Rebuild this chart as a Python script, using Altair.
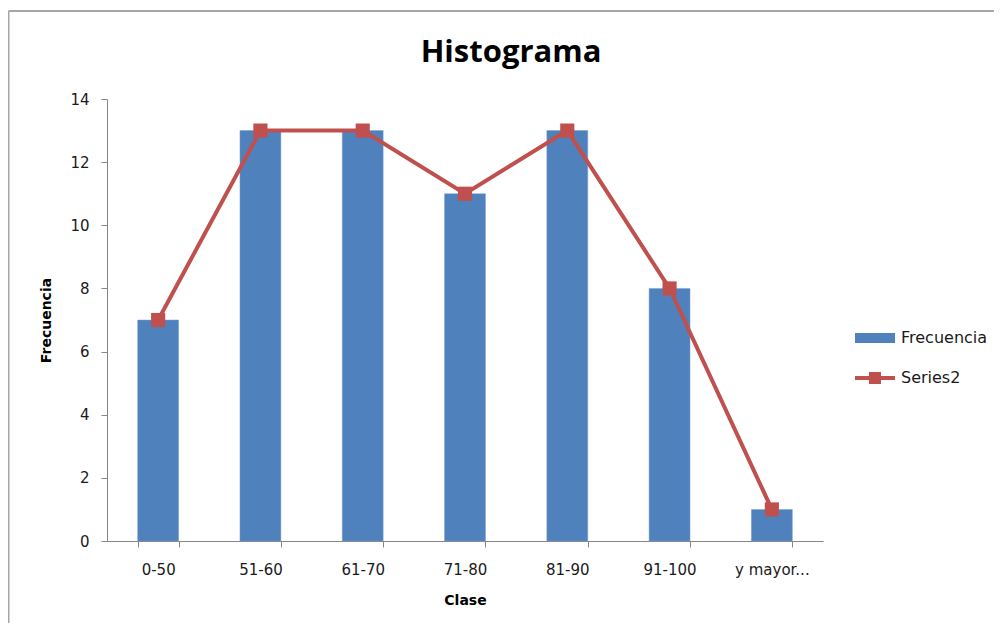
import altair as alt
import pandas as pd

clases = ["0-50", "51-60", "61-70", "71-80", "81-90", "91-100", "y mayor..."]
frecuencia = [7, 13, 13, 11, 13, 8, 1]
series2 = [7, 13, 13, 11, 13, 8, 1]
y_ticks = [0, 2, 4, 6, 8, 10, 12, 14]

df = pd.DataFrame({
    "Clase": clases,
    "Frecuencia": frecuencia,
    "Series2": series2,
    "s1": ["Frecuencia"] * len(clases),
    "s2": ["Series2"] * len(clases),
})

W, H = 716, 442
PL, PT = 99, 91
TOTAL_W, TOTAL_H = 986, 615

BLUE = "#4F81BD"
RED = "#C0504D"
AXIS_GRAY = "#868686"
FONT = "DejaVu Sans"

x_enc = alt.X(
    "Clase:N",
    sort=clases,
    scale=alt.Scale(paddingInner=0.6, paddingOuter=0.3),
    axis=alt.Axis(
        title="Clase", labelAngle=0, tickBand="extent", tickSize=6,
        labelPadding=15, titlePadding=16, domainColor=AXIS_GRAY, tickColor=AXIS_GRAY,
        labelFont=FONT, labelFontSize=15, labelColor="#1a1a1a",
        titleFont=FONT, titleFontSize=14, titleFontWeight="bold", titleColor="#000000",
    ),
)

y_scale = alt.Scale(domain=[0, 14], nice=False)

bars = alt.Chart(df).mark_bar(stroke="#7A9FCF", strokeWidth=0.5).encode(
    x=x_enc,
    y=alt.Y(
        "Frecuencia:Q", scale=y_scale,
        axis=alt.Axis(
            title="Frecuencia", values=y_ticks, grid=False, tickSize=6, labelPadding=12,
            titlePadding=16, domainColor=AXIS_GRAY, tickColor=AXIS_GRAY,
            labelFont=FONT, labelFontSize=15, labelColor="#1a1a1a",
            titleFont=FONT, titleFontSize=14, titleFontWeight="bold", titleColor="#000000",
        ),
    ),
    fill=alt.Fill(
        "s1:N", scale=alt.Scale(domain=["Frecuencia"], range=[BLUE]),
        legend=alt.Legend(
            title=None, orient="none", legendX=768 - 20, legendY=239 - 20,
            symbolType="M-1,-0.25H1V0.25H-1Z", symbolSize=1600, symbolStrokeWidth=0,
            labelFont=FONT, labelFontSize=16, labelColor="#1a1a1a", labelOffset=6, padding=0,
        ),
    ),
)

line = alt.Chart(df).mark_line(strokeWidth=4).encode(
    x=alt.X("Clase:N", sort=clases),
    y=alt.Y("Series2:Q", scale=y_scale),
    stroke=alt.Stroke(
        "s2:N", scale=alt.Scale(domain=["Series2"], range=[RED]),
        legend=alt.Legend(
            title=None, orient="none", legendX=768 - 20, legendY=279 - 20,
            symbolType="M-1,-0.1H-0.3V-0.3H0.3V-0.1H1V0.1H0.3V0.3H-0.3V0.1H-1Z",
            symbolSize=1600, symbolFillColor=RED, symbolStrokeWidth=0,
            labelFont=FONT, labelFontSize=16, labelColor="#1a1a1a", labelOffset=6, padding=0,
        ),
    ),
)

points = alt.Chart(df).mark_square(size=200, color=RED, opacity=1).encode(
    x=alt.X("Clase:N", sort=clases),
    y=alt.Y("Series2:Q", scale=y_scale),
)

frame_df = pd.DataFrame({"b": [0]})
border_top = alt.Chart(frame_df).mark_rule(color="#A6A6A6", strokeWidth=2).encode(
    x=alt.value(-98.5), x2=alt.value(TOTAL_W - PL), y=alt.value(-88)
)
border_left = alt.Chart(frame_df).mark_rule(color="#A6A6A6", strokeWidth=2).encode(
    x=alt.value(-98.5), y=alt.value(-88), y2=alt.value(TOTAL_H - PT)
)

chart = alt.layer(border_top, border_left, bars, line, points).resolve_scale(
    fill="independent", stroke="independent"
).properties(
    width=W, height=H,
    autosize=alt.AutoSizeParams(type="none"),
    padding={"left": PL, "top": PT, "right": TOTAL_W - PL - W, "bottom": TOTAL_H - PT - H},
    title=alt.TitleParams(
        "Histograma", font="Open Sans", fontSize=31, fontWeight="bold", color="#000000",
        anchor="middle", frame="group", dx=46, baseline="alphabetic", offset=-83,
    ),
).configure(
    background="white",
    view=alt.ViewConfig(stroke="transparent", strokeWidth=0),
)

chart.save("out.html", embed_options={"renderer": "svg", "actions": False})
